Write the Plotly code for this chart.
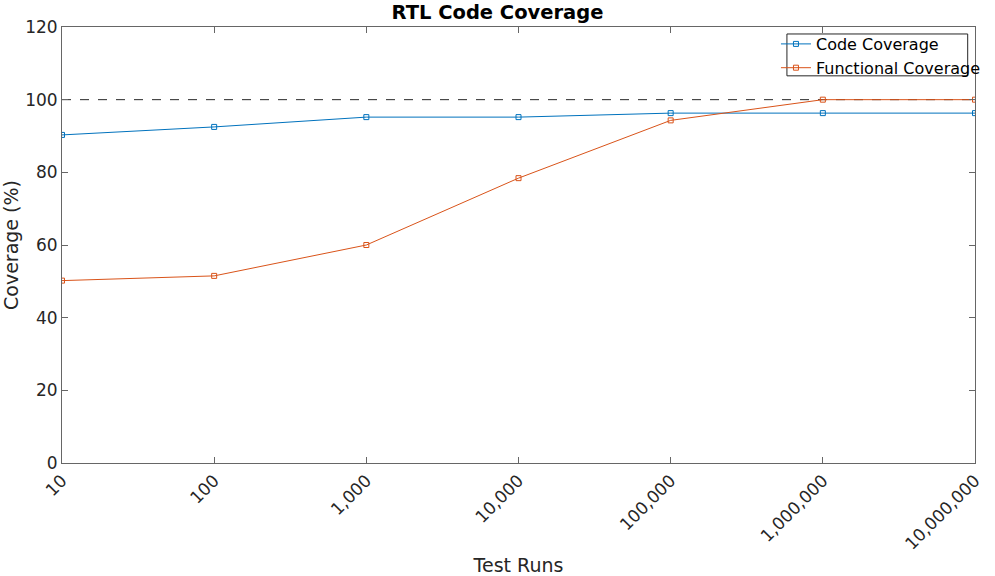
import plotly.graph_objects as go

test_runs = [10, 100, 1000, 10000, 100000, 1000000, 10000000]
tick_labels = ["10", "100", "1,000", "10,000", "100,000", "1,000,000", "10,000,000"]
code_coverage = [90.3, 92.5, 95.2, 95.2, 96.3, 96.3, 96.3]
functional_coverage = [50.2, 51.5, 60.0, 78.4, 94.3, 100.0, 100.0]
target = [100, 100]
target_x = [10, 10000000]

FONT = "DejaVu Sans"
fig = go.Figure()
fig.add_trace(go.Scatter(x=target_x, y=target, mode="lines", showlegend=False,
                         line=dict(color="#262626", width=1, dash="dash"), hoverinfo="skip"))
fig.add_trace(go.Scatter(x=test_runs, y=code_coverage, mode="lines+markers", name="Code Coverage",
                         line=dict(color="#0072BD", width=1),
                         marker=dict(symbol="square-open", size=5, color="#0072BD", line=dict(width=1))))
fig.add_trace(go.Scatter(x=test_runs, y=functional_coverage, mode="lines+markers", name="Functional Coverage",
                         line=dict(color="#D95319", width=1),
                         marker=dict(symbol="square-open", size=5, color="#D95319", line=dict(width=1))))

axis_common = dict(showline=True, linecolor="#666666", linewidth=1, mirror="ticks",
                   ticks="inside", ticklen=6, tickcolor="#666666", showgrid=False, zeroline=False,
                   automargin=False,
                   tickfont=dict(family=FONT, size=17, color="#262626"))
fig.update_xaxes(type="log", range=[1, 7], tickvals=test_runs, ticktext=tick_labels, tickangle=-45,
                 title=dict(text="Test Runs", font=dict(family=FONT, size=19, color="#262626"), standoff=10),
                 **axis_common)
fig.update_yaxes(range=[0, 120], tickvals=[0, 20, 40, 60, 80, 100, 120],
                 title=dict(text="Coverage (%)", font=dict(family=FONT, size=19, color="#262626"), standoff=8),
                 **axis_common)

# legend box (MATLAB style, text overflows the box)
fig.add_shape(type="rect", xref="paper", yref="paper", x0=0.794, x1=0.992, y0=0.888, y1=0.984,
              line=dict(color="#262626", width=1), fillcolor="white", layer="above")

fig.update_layout(
    width=995, height=576,
    margin=dict(l=62, r=20, t=27, b=113, autoexpand=False),
    paper_bgcolor="white", plot_bgcolor="white",
    title=dict(text="<b>RTL Code Coverage</b>", x=0.5, xanchor="center", y=0.979, yanchor="middle",
               font=dict(family=FONT, size=19.5, color="#000000")),
    legend=dict(x=0.782, y=1.0, xanchor="left", yanchor="top",
                bgcolor="rgba(0,0,0,0)", borderwidth=0,
                font=dict(family=FONT, size=16, color="#000000"),
                tracegroupgap=0, itemwidth=30),
    font=dict(family=FONT),
)
fig.write_html("out.html", post_script="document.body.style.margin='0';",
               config={"displayModeBar": False})
